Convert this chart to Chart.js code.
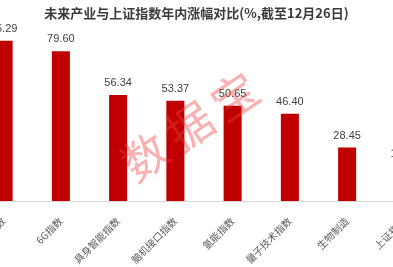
<!DOCTYPE html>
<html>
<head>
<meta charset="utf-8">
<script src="https://cdn.jsdelivr.net/npm/chart.js@4"></script>
<style>
  html, body { margin: 0; padding: 0; background: #fff; overflow: hidden; }
  #wrap { position: relative; width: 393px; height: 267px; overflow: hidden; }
  #title {
    position: absolute; left: 0; top: 3px; width: 393px; text-align: center;
    font: bold 13px "Noto Sans CJK SC", sans-serif; color: #3a3a3a; z-index: 2;
  }
  #myChart { position: absolute; left: -25px; top: 0; }
</style>
</head>
<body>
<div id="wrap">
  <div id="title">未来产业与上证指数年内涨幅对比(%,截至12月26日)</div>
  <canvas id="myChart" width="458" height="267"></canvas>
</div>
<script>
const categories = ['低空经济指数', '6G指数', '具身智能指数', '脑机接口指数', '氢能指数', '量子技术指数', '生物制造', '上证指数'];
const gains = [85.29, 79.60, 56.34, 53.37, 50.65, 46.40, 28.45, 18.60];
const yTicks = [0, 100];

const chart_obj = document.getElementById('myChart');

// value labels above bars + watermark
const barLabels = {
  id: 'barLabels',
  afterDatasetsDraw(chart) {
    const ctx = chart.ctx;
    const meta = chart.getDatasetMeta(0);
    ctx.save();
    ctx.font = '11px "Liberation Sans", "DejaVu Sans", sans-serif';
    ctx.fillStyle = '#404040';
    ctx.textAlign = 'center';
    ctx.textBaseline = 'middle';
    meta.data.forEach((bar, i) => {
      ctx.fillText(gains[i].toFixed(2), bar.x, bar.y - 12);
    });
    ctx.restore();
  },
  afterDraw(chart) {
    const ctx = chart.ctx;
    ctx.save();
    ctx.translate(193 + 25, 124);
    ctx.rotate(-34 * Math.PI / 180);
    ctx.font = '46px "Noto Sans CJK SC", sans-serif';
    ctx.fillStyle = 'rgba(240, 60, 60, 0.4)';
    ctx.textAlign = 'center';
    ctx.textBaseline = 'middle';
    ctx.letterSpacing = '8px';
    ctx.fillText('数据宝', 0, 0);
    ctx.restore();
  }
};

new Chart(chart_obj, {
  type: 'bar',
  data: {
    labels: categories,
    datasets: [{
      data: gains,
      backgroundColor: '#c00000',
      barPercentage: 0.315,
      categoryPercentage: 1
    }]
  },
  options: {
    responsive: false,
    devicePixelRatio: 1,
    animation: false,
    layout: { padding: { top: 13, left: 0, right: 0, bottom: 0 } },
    plugins: { legend: { display: false }, tooltip: { enabled: false } },
    scales: {
      x: {
        grid: { display: false },
        border: { display: true, color: '#d9d9d9' },
        ticks: {
          autoSkip: false,
          minRotation: 45,
          maxRotation: 45,
          padding: 6,
          color: '#595959',
          font: { size: 10, family: '"Noto Sans CJK SC", sans-serif' }
        },
        afterFit(s) { s.height = 66; s.paddingLeft = 0; s.paddingRight = 0; }
      },
      y: {
        display: false,
        min: yTicks[0],
        max: yTicks[1]
      }
    }
  },
  plugins: [barLabels]
});
</script>
</body>
</html>
